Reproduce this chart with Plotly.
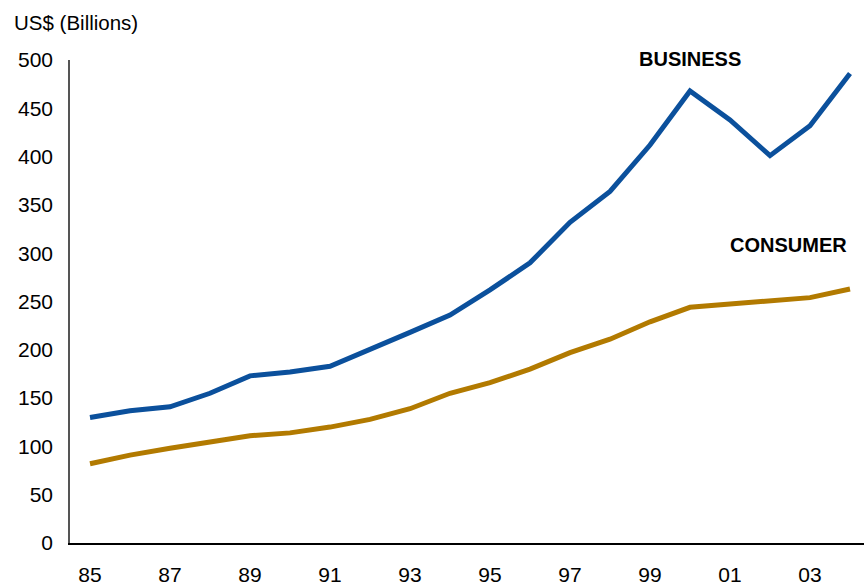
import plotly.graph_objects as go

# Annual credit volumes, 1985-2004 (US$ billions)
years = list(range(1985, 2005))
business = [130, 137, 141, 155, 173, 177, 183, 200, 218, 236,
            262, 290, 332, 364, 412, 468, 438, 401, 432, 486]
consumer = [82, 91, 98, 105, 111, 114, 120, 128, 139, 155,
            166, 180, 197, 211, 229, 244, 247, 250, 254, 263]

tick_years = list(range(1985, 2004, 2))
tick_labels = [f"{y % 100:02d}" for y in tick_years]
y_ticks = list(range(0, 501, 50))

BLUE = "#0B509C"
GOLD = "#B27A00"
FONT = "Liberation Sans, Arial, sans-serif"

fig = go.Figure()
fig.add_trace(go.Scatter(x=years, y=business, mode="lines", name="BUSINESS",
                         line=dict(color=BLUE, width=5), showlegend=False))
fig.add_trace(go.Scatter(x=years, y=consumer, mode="lines", name="CONSUMER",
                         line=dict(color=GOLD, width=5), showlegend=False))

fig.update_layout(
    width=864, height=587,
    margin=dict(l=70, r=0, t=60, b=44),
    paper_bgcolor="white", plot_bgcolor="white",
    font=dict(family=FONT, size=21, color="#000000"),
    xaxis=dict(range=[1984.5, 2004.35], tickvals=tick_years, ticktext=tick_labels,
               showgrid=False, zeroline=False, showline=True, linecolor="#000000",
               linewidth=1.5, ticks="", ticklabelstandoff=12),
    yaxis=dict(range=[0, 500], tickvals=y_ticks, showgrid=False, zeroline=False,
               showline=True, linecolor="#555555", linewidth=1.5, ticks="",
               ticklabelstandoff=11),
    annotations=[
        dict(text="US$ (Billions)", xref="paper", yref="paper",
             x=-58 / 794, y=1 + 38 / 483, xanchor="left", yanchor="middle",
             showarrow=False, font=dict(size=20.5)),
        dict(text="<b>BUSINESS</b>", x=2000, y=1 + 1 / 483, xref="x", yref="paper",
             yanchor="middle", showarrow=False, font=dict(size=20)),
        dict(text="<b>CONSUMER</b>", x=2002.45, y=308, xref="x", yref="y",
             showarrow=False, font=dict(size=20)),
    ],
)

fig.write_html("out.html")
